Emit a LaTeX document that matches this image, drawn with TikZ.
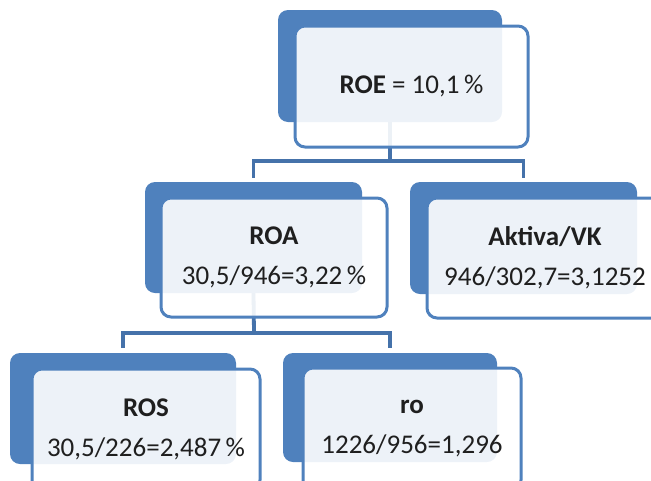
\documentclass[tikz,border=0pt]{standalone}
\usepackage{fontspec}
\setmainfont{Carlito}
\definecolor{bk}{HTML}{4F81BD}
\definecolor{cn}{HTML}{4572AA}
\definecolor{tx}{HTML}{1F1F1F}
\begin{document}
\begin{tikzpicture}[x=1pt,y=-1pt,
  back/.style={fill=bk, rounded corners=10pt, inner sep=0pt},
  front/.style={draw=bk, line width=3pt, fill=white, fill opacity=0.9, text opacity=1,
    rounded corners=10pt, align=center, text=tx, inner sep=0pt,
    font=\fontsize{27}{40}\selectfont},
  conn/.style={draw=cn, line width=3.8pt}]
\useasboundingbox (0,0) rectangle (651,480);
\clip (0,0) rectangle (651,480);
% back plates
\node[back, minimum width=224pt, minimum height=112pt] (roeB) at (390,66) {};
\node[back, minimum width=217pt, minimum height=111pt] (roaB) at (253.5,237.5) {};
\node[back, minimum width=227pt, minimum height=112pt] (aktB) at (523.5,238) {};
\node[back, minimum width=226pt, minimum height=111pt] (rosB) at (123,408.5) {};
\node[back, minimum width=214pt, minimum height=109pt] (roB) at (390,407.5) {};
% connectors
\coordinate (j1) at (390,161);
\coordinate (j2) at (254,333);
\draw[conn] (roeB.south) -- (j1);
\draw[conn, shorten <=4pt] (roaB.north) |- (j1) -| ([yshift=4pt]aktB.north);
\draw[conn] (roaB.south) -- (j2);
\draw[conn, shorten <=5pt] (rosB.north) |- (j2) -| ([yshift=5pt]roB.north);
% front boxes
\node[front, minimum width=233pt, minimum height=121pt] (roe) at (411.5,86.5) {\textbf{ROE} = 10,1\,\%};
\node[front, minimum width=226pt, minimum height=119pt] (roa) at (274,257.5) {\textbf{ROA}\\30,5/946=3,22\,\%};
\node[front, minimum width=236pt, minimum height=120pt] (akt) at (545,258) {\textbf{Aktiva/VK}\\946/302,7=3,1252};
\node[front, minimum width=228pt, minimum height=121pt] (ros) at (146,429.5) {\textbf{ROS}\\30,5/226=2,487\,\%};
\node[front, minimum width=218pt, minimum height=122pt] (ro) at (412,429) {\textbf{ro}\\1226/956=1,296};
\end{tikzpicture}
\end{document}
